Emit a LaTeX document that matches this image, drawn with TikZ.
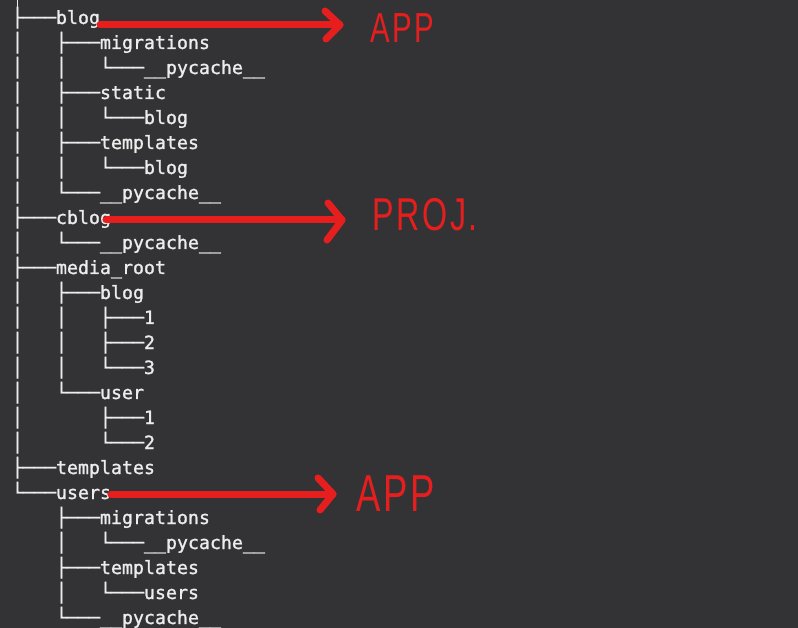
\documentclass[tikz,border=0pt]{standalone}
\usepackage{fontspec}
\newfontfamily\termfont[FakeBold=1.3]{DejaVu Sans Mono}
\newfontfamily\handfont[FakeStretch=0.7,LetterSpace=6]{Liberation Sans}
\usetikzlibrary{calc}
\definecolor{bg}{RGB}{51,51,53}
\definecolor{fg}{RGB}{236,236,236}
\definecolor{mark}{RGB}{230,30,30}
\tikzset{
  row/.style={anchor=base west, inner sep=0pt, outer sep=0pt, text=fg, font=\termfont\fontsize{18.27}{25}\selectfont},
  redline/.style={draw=mark, line width=7pt, line cap=round, line join=round},
  hand/.style={anchor=base west, inner sep=0pt, outer sep=0pt, text=mark},
}
\begin{document}
\begin{tikzpicture}[x=1pt,y=-1pt]
\fill[bg] (0,0) rectangle (798,628);
\useasboundingbox (0,0) rectangle (798,628);
% tree rows
\node[row] (r0)  at (12,24)  {├───blog};
\coordinate (topend) at (17.5,0);
\draw[fg, line width=1.5pt] (topend) -- ([xshift=0pt]r0.north west -| topend);
\node[row] (r1)  at (12,49)  {│~~~├───migrations};
\node[row] (r2)  at (12,74)  {│~~~│~~~└───\_\_pycache\_\_};
\node[row] (r3)  at (12,99)  {│~~~├───static};
\node[row] (r4)  at (12,124) {│~~~│~~~└───blog};
\node[row] (r5)  at (12,149) {│~~~├───templates};
\node[row] (r6)  at (12,174) {│~~~│~~~└───blog};
\node[row] (r7)  at (12,199) {│~~~└───\_\_pycache\_\_};
\node[row] (r8)  at (12,224) {├───cblog};
\node[row] (r9)  at (12,249) {│~~~└───\_\_pycache\_\_};
\node[row] (r10) at (12,274) {├───media\_root};
\node[row] (r11) at (12,299) {│~~~├───blog};
\node[row] (r12) at (12,324) {│~~~│~~~├───1};
\node[row] (r13) at (12,349) {│~~~│~~~├───2};
\node[row] (r14) at (12,374) {│~~~│~~~└───3};
\node[row] (r15) at (12,399) {│~~~└───user};
\node[row] (r16) at (12,424) {│~~~~~~~├───1};
\node[row] (r17) at (12,449) {│~~~~~~~└───2};
\node[row] (r18) at (12,474) {├───templates};
\node[row] (r19) at (12,499) {└───users};
\node[row] (r20) at (12,524) {~~~~├───migrations};
\node[row] (r21) at (12,549) {~~~~│~~~└───\_\_pycache\_\_};
\node[row] (r22) at (12,574) {~~~~├───templates};
\node[row] (r23) at (12,599) {~~~~│~~~└───users};
\node[row] (r24) at (12,624) {~~~~└───\_\_pycache\_\_};
% red arrows
\coordinate (t1) at (340,25);  \coordinate (t1a) at (325,11);  \coordinate (t1b) at (326,39);
\coordinate (t2) at (342,220); \coordinate (t2a) at (328,203); \coordinate (t2b) at (327,240);
\coordinate (t3) at (333,494); \coordinate (t3a) at (318,478); \coordinate (t3b) at (320,510);
\draw[redline] ([yshift=-1pt]r0.base east) -- (t1);
\draw[redline] (t1a) -- (t1) -- (t1b);
\draw[redline] ([xshift=-5pt,yshift=4pt]r8.base east) -- (t2);
\draw[redline] (t2a) -- (t2) -- (t2b);
\draw[redline] ([yshift=5pt]r19.base east) -- (t3);
\draw[redline] (t3a) -- (t3) -- (t3b);
% labels
\node[hand, font=\handfont\fontsize{42}{42}\selectfont] (app1) at (370,43) {APP};
\node[hand, font=\handfont\fontsize{46}{46}\selectfont] (proj) at (372,231) {PROJ.};
\node[hand, font=\handfont\fontsize{52}{52}\selectfont] (app2) at (356,511) {APP};
\end{tikzpicture}
\end{document}
